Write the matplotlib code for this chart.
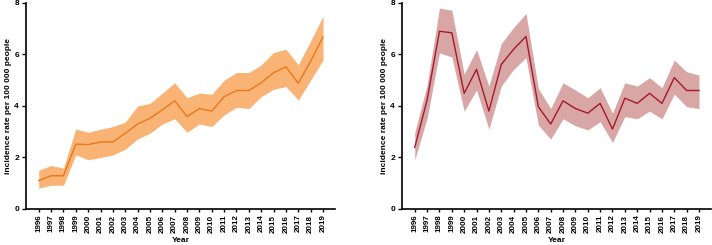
import numpy as np
import matplotlib.pyplot as plt

plt.rcParams['font.family'] = ['Liberation Sans', 'DejaVu Sans']
plt.rcParams['font.weight'] = 'bold'

years = list(range(1996, 2020))

left_mid = [1.10, 1.29, 1.29, 2.52, 2.50, 2.60, 2.60, 2.94, 3.30, 3.52, 3.85, 4.20,
            3.59, 3.90, 3.80, 4.36, 4.60, 4.60, 4.90, 5.29, 5.52, 4.88, 5.74, 6.68]
left_hi = [1.50, 1.69, 1.59, 3.11, 2.98, 3.10, 3.20, 3.37, 4.00, 4.10, 4.50, 4.90,
           4.32, 4.50, 4.45, 5.00, 5.30, 5.30, 5.59, 6.08, 6.20, 5.60, 6.53, 7.48]
left_lo = [0.81, 0.92, 0.92, 2.10, 1.91, 2.00, 2.10, 2.32, 2.72, 2.94, 3.30, 3.50,
           2.98, 3.30, 3.20, 3.65, 3.95, 3.90, 4.36, 4.65, 4.75, 4.23, 5.00, 5.78]

right_mid = [2.39, 4.23, 6.90, 6.84, 4.49, 5.42, 3.80, 5.61, 6.20, 6.70, 3.97, 3.30,
             4.20, 3.90, 3.72, 4.10, 3.10, 4.30, 4.10, 4.49, 4.10, 5.10, 4.60, 4.60]
right_hi = [2.97, 4.81, 7.80, 7.72, 5.24, 6.19, 4.77, 6.42, 7.05, 7.59, 4.68, 3.90,
            4.90, 4.62, 4.32, 4.71, 3.72, 4.90, 4.77, 5.10, 4.71, 5.78, 5.33, 5.20]
right_lo = [1.91, 3.52, 6.06, 5.90, 3.80, 4.62, 3.10, 4.77, 5.42, 5.88, 3.26, 2.71,
            3.50, 3.23, 3.07, 3.39, 2.58, 3.59, 3.50, 3.80, 3.50, 4.46, 3.97, 3.90]

fig = plt.figure(figsize=(7.12, 2.45), dpi=100)
ax1 = fig.add_axes([0.0365, 0.147, 0.434, 0.841])
ax2 = fig.add_axes([0.5646, 0.147, 0.434, 0.841])

panels = [
    (ax1, left_mid, left_lo, left_hi, '#F9B475', '#E8781C'),
    (ax2, right_mid, right_lo, right_hi, '#D9A6A6', '#A3192B'),
]

for ax, mid, lo, hi, fill_c, line_c in panels:
    ax.fill_between(years, lo, hi, color=fill_c, lw=0)
    ax.plot(years, mid, color=line_c, lw=1.0)
    ax.set_xlim(1994.97, 2019.97)
    ax.set_ylim(0, 8)
    ax.set_yticks([0, 2, 4, 6, 8])
    ax.set_xticks(years)
    ax.set_xticklabels([str(y) for y in years], rotation=90, fontsize=5.8, fontweight='bold')
    ax.tick_params(axis='y', labelsize=6, length=3, width=1, pad=2)
    ax.tick_params(axis='x', length=2.5, width=1, pad=1.5)
    for s in ['top', 'right']:
        ax.spines[s].set_visible(False)
    for s in ['left', 'bottom']:
        ax.spines[s].set_linewidth(1.2)
    ax.set_xlabel('Year', fontsize=6, fontweight='bold')
    ax.xaxis.set_label_coords(0.5, -0.135)
    ax.set_ylabel('incidence rate per 100 000 people', fontsize=6, fontweight='bold', labelpad=2)

fig.savefig('out.png', dpi=100)
